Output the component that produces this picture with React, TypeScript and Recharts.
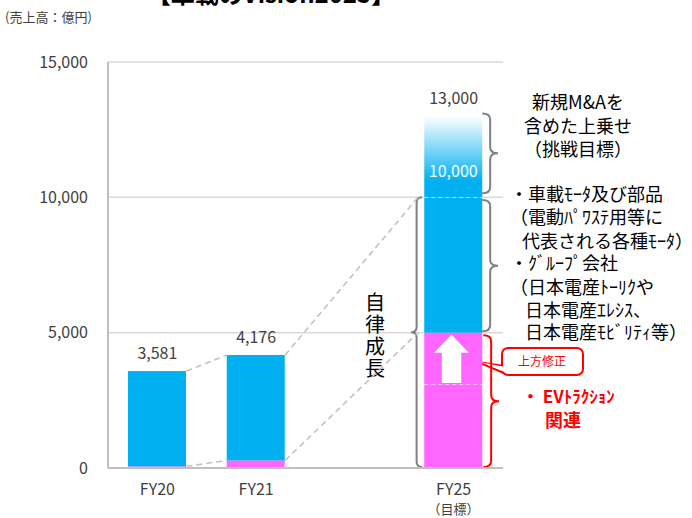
import {
  Bar,
  CartesianGrid,
  ComposedChart,
  LabelList,
  ReferenceArea,
  ReferenceDot,
  ReferenceLine,
  XAxis,
  YAxis,
} from "recharts";

const categories = ["FY20", "FY21", "", "FY25"];
const evBase = [60, 280, null, 3100];
const evRevision = [0, 0, null, 1900];
const motorCore = [3521, 3896, null, 5000];
const stretchGoal = [0, 0, null, 3000];
const totals = [3581, 4176, null, 13000];
const innerLabels = [null, null, null, "10,000"];
const yTicks = [0, 5000, 10000, 15000];

const data = categories.map((name, i) => ({
  name,
  slot: i + 0.5,
  evBase: evBase[i],
  evRevision: evRevision[i],
  motorCore: motorCore[i],
  stretchGoal: stretchGoal[i],
  inner: innerLabels[i],
}));

const BLUE = "#00b0f0";
const PINK = "#ff66ff";
const GRAY_TEXT = "#404040";
const NUM_FONT = "'Liberation Sans Narrow', 'Noto Sans CJK JP', sans-serif";
const JP_FONT = "'Noto Sans CJK JP', sans-serif";

// dashed connectors, x in band units on the hidden numeric axis
const HALF = 0.294;
const connectors = [
  { x1: 0.5 + HALF, y1: 3581, x2: 1.5 - HALF, y2: 4176 },
  { x1: 0.5 + HALF, y1: 60, x2: 1.5 - HALF, y2: 280 },
  { x1: 1.5 + HALF, y1: 4176, x2: 3.14, y2: 10000 },
  { x1: 1.5 + HALF, y1: 280, x2: 3.14, y2: 5000 },
];

const braces = [
  { x1: 3.79, x2: 3.95, y1: 13100, y2: 10150, dir: "right", color: "#808080" },
  { x1: 3.79, x2: 3.95, y1: 9900, y2: 5050, dir: "right", color: "#808080" },
  { x1: 3.8, x2: 3.96, y1: 4900, y2: 40, dir: "right", color: "#ff0000" },
  { x1: 3.07, x2: 3.18, y1: 10000, y2: 40, dir: "left", color: "#808080" },
];

function Brace(props: any) {
  const { x, y, width: w, height: h, dir, color } = props;
  const r = w / 2;
  const mid = y + h / 2;
  const k = Math.min(r, 6);
  const cx = x + r;
  const open = dir === "right" ? x : x + w;
  const tip = dir === "right" ? x + w : x;
  const d = `M${open},${y} Q${cx},${y} ${cx},${y + k} L${cx},${mid - k} Q${cx},${mid} ${tip},${mid} Q${cx},${mid} ${cx},${mid + k} L${cx},${y + h - k} Q${cx},${y + h} ${open},${y + h}`;
  return <path d={d} fill="none" stroke={color} strokeWidth={2} />;
}

function DashedTopRect(props: any) {
  const { x, y, width, height, fill, index } = props;
  if (!height) return null;
  return (
    <g>
      <rect x={x} y={y} width={width} height={height} fill={fill} />
      {index === 3 && (
        <line x1={x} x2={x + width} y1={y} y2={y} stroke="#ffffff" strokeWidth={1} strokeDasharray="4 3" />
      )}
    </g>
  );
}

function ArrowRect(props: any) {
  const { x, y, width: w, height: h, fill } = props;
  if (!h) return null;
  const ax = x + w * 0.17;
  const aw = w * 0.6;
  const arrow = `M${ax + aw / 2},${y + 2} L${ax + aw},${y + 20} L${ax + aw * 0.78},${y + 20} L${ax + aw * 0.78},${y + h - 1} L${ax + aw * 0.22},${y + h - 1} L${ax + aw * 0.22},${y + 20} L${ax},${y + 20} Z`;
  return (
    <g>
      <rect x={x} y={y} width={w} height={h} fill={fill} />
      <path d={arrow} fill="#ffffff" />
    </g>
  );
}

function CategoryTick(props: any) {
  const { x, y, payload } = props;
  if (!payload.value) return null;
  return (
    <g>
      <text x={x} y={y + 25} textAnchor="middle" fill={GRAY_TEXT} fontSize={16} fontFamily={NUM_FONT}>
        {payload.value}
      </text>
      {payload.value === "FY25" && (
        <text x={x} y={y + 44} textAnchor="middle" fill={GRAY_TEXT} fontSize={13} fontFamily={JP_FONT}>
          （目標）
        </text>
      )}
    </g>
  );
}

function InnerLabel(props: any) {
  const { x, y, width, height, value } = props;
  if (!value) return null;
  return (
    <text x={x + width / 2} y={y + height - 20} textAnchor="middle" fill="#ffffff" fontSize={16} fontFamily={NUM_FONT}>
      {value}
    </text>
  );
}

const noteLines = [
  { text: "・車載ﾓｰﾀ及び部品", x: 510, y: 201 },
  { text: "（電動ﾊﾟﾜｽﾃ用等に", x: 510, y: 224 },
  { text: "代表される各種ﾓｰﾀ）", x: 522, y: 248 },
  { text: "・ｸﾞﾙｰﾌﾟ会社", x: 510, y: 270 },
  { text: "（日本電産ﾄｰﾘｸや", x: 510, y: 294 },
  { text: "日本電産ｴﾚｼｽ、", x: 525, y: 317 },
  { text: "日本電産ﾓﾋﾞﾘﾃｨ等）", x: 525, y: 339 },
];

export default function App() {
  return (
    <div style={{ position: "absolute", left: 0, top: 0, background: "#ffffff" }}>
      <ComposedChart
        width={692}
        height={518}
        data={data}
        margin={{ top: 62, right: 189, bottom: 20, left: 0 }}
      >
        <defs>
          <linearGradient id="stretchGrad" x1="0" y1="0" x2="0" y2="1">
            <stop offset="0%" stopColor="#ffffff" />
            <stop offset="80%" stopColor={BLUE} />
            <stop offset="100%" stopColor={BLUE} />
          </linearGradient>
        </defs>
        <CartesianGrid vertical={false} stroke="#d9d9d9" strokeWidth={1.5} />
        <XAxis
          xAxisId="c"
          dataKey="name"
          height={30}
          axisLine={{ stroke: "#bfbfbf", strokeWidth: 2 }}
          tickLine={false}
          tickSize={0}
          tick={<CategoryTick />}
          interval={0}
        />
        <XAxis xAxisId="n" dataKey="slot" type="number" domain={[0, 4]} allowDataOverflow padding={{ left: 0, right: 0 }} hide />
        <YAxis
          width={108}
          domain={[0, 15000]}
          ticks={yTicks}
          interval={0}
          axisLine={{ stroke: "#bfbfbf", strokeWidth: 2 }}
          tickLine={false}
          tickSize={0}
          tickMargin={20}
          tickFormatter={(v: number) => v.toLocaleString("en-US")}
          tick={{ fill: GRAY_TEXT, fontSize: 16, fontFamily: NUM_FONT }}
        />
        <Bar xAxisId="c" dataKey="evBase" stackId="a" fill={PINK} barSize={58} shape={<DashedTopRect />} isAnimationActive={false} />
        <Bar xAxisId="c" dataKey="evRevision" stackId="a" fill={PINK} barSize={58} shape={<ArrowRect />} isAnimationActive={false} />
        <Bar xAxisId="c" dataKey="motorCore" stackId="a" fill={BLUE} barSize={58} shape={<DashedTopRect />} isAnimationActive={false} />
        <Bar xAxisId="c" dataKey="stretchGoal" stackId="a" fill="url(#stretchGrad)" barSize={58} isAnimationActive={false}>
          <LabelList dataKey="inner" content={<InnerLabel />} />
        </Bar>
        {categories.map((c, i) =>
          totals[i] == null ? null : (
            <ReferenceDot
              key={`t${i}`}
              xAxisId="c"
              x={c}
              y={totals[i] as number}
              r={0}
              stroke="none"
              fill="none"
              ifOverflow="visible"
              label={{
                value: (totals[i] as number).toLocaleString("en-US"),
                position: "top",
                offset: 12,
                fill: GRAY_TEXT,
                fontSize: 16,
                fontFamily: NUM_FONT,
              }}
            />
          )
        )}
        {connectors.map((c, i) => (
          <ReferenceLine
            key={`c${i}`}
            xAxisId="n"
            ifOverflow="visible"
            segment={[
              { x: c.x1, y: c.y1 },
              { x: c.x2, y: c.y2 },
            ]}
            stroke="#bfbfbf"
            strokeWidth={1.5}
            strokeDasharray="6 4"
          />
        ))}
        {braces.map((b, i) => (
          <ReferenceArea
            key={`b${i}`}
            xAxisId="n"
            ifOverflow="visible"
            x1={b.x1}
            x2={b.x2}
            y1={b.y1}
            y2={b.y2}
            shape={(p: any) => <Brace {...p} dir={b.dir} color={b.color} />}
          />
        ))}
        <text x={271} y={3} textAnchor="middle" fontSize={24} fontWeight="bold" fontFamily={JP_FONT} fill="#000000">
          【車載のVision2025】
        </text>
        <text x={5} y={22} fontSize={13} fontFamily={JP_FONT} fill={GRAY_TEXT}>
          (売上高：億円)
        </text>
        <text x={578} y={109} textAnchor="middle" fontSize={18} fontFamily={JP_FONT} fill="#000000">
          新規M&amp;Aを
        </text>
        <text x={578} y={133} textAnchor="middle" fontSize={18} fontFamily={JP_FONT} fill="#000000">
          含めた上乗せ
        </text>
        <text x={578} y={156} textAnchor="middle" fontSize={18} fontFamily={JP_FONT} fill="#000000">
          （挑戦目標）
        </text>
        {noteLines.map((l, i) => (
          <text key={`n${i}`} x={l.x} y={l.y} fontSize={18} fontFamily={JP_FONT} fill="#000000">
            {l.text}
          </text>
        ))}
        <text
          x={375}
          y={292}
          fontSize={20}
          fontFamily={JP_FONT}
          fill="#000000"
          letterSpacing={2}
          style={{ writingMode: "vertical-rl" }}
        >
          自律成長
        </text>
        <path d="M478,362 L504,366 L504,373 Z" fill="#ffffff" stroke="#ff0000" strokeWidth={2} strokeLinejoin="round" />
        <rect x={502} y={348} width={81} height={27} rx={6} fill="#ffffff" stroke="#ff0000" strokeWidth={2} />
        <path d="M480,362 L505,367 L505,372 Z" fill="#ffffff" />
        <text x={542} y={366} textAnchor="middle" fontSize={12} fontFamily={JP_FONT} fill="#ff0000">
          上方修正
        </text>
        <text x={522} y={403} fontSize={17} fontWeight="bold" fontFamily={JP_FONT} fill="#ff0000">
          ・ EVﾄﾗｸｼｮﾝ
        </text>
        <text x={563} y={427} textAnchor="middle" fontSize={18} fontWeight="bold" fontFamily={JP_FONT} fill="#ff0000">
          関連
        </text>
      </ComposedChart>
    </div>
  );
}
